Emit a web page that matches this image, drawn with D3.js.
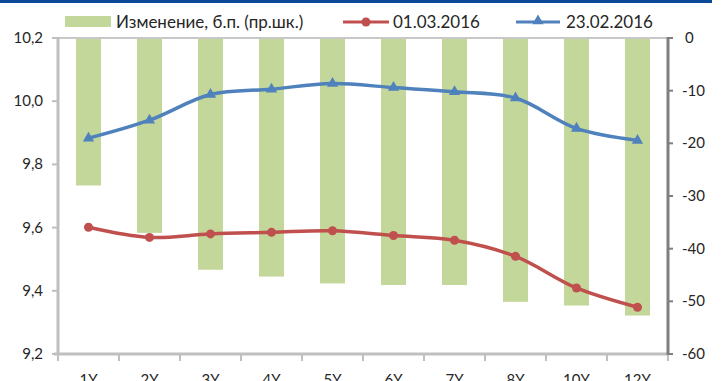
<!DOCTYPE html>
<html><head><meta charset="utf-8">
<script src="https://cdn.jsdelivr.net/npm/d3@7"></script>
<style>body{margin:0;background:#fff}svg{display:block}text{font-family:Lato,"Open Sans",sans-serif}</style>
</head><body><svg id="c" width="724" height="381"></svg>
<script>
const categories = ["1Y","2Y","3Y","4Y","5Y","6Y","7Y","8Y","10Y","12Y"];
const changeBp = [-28, -37, -44, -45.3, -46.6, -46.9, -46.9, -50.1, -50.8, -52.7];
const series0103 = [9.601, 9.569, 9.580, 9.585, 9.590, 9.575, 9.560, 9.509, 9.409, 9.348];
const series2302 = [9.883, 9.940, 10.021, 10.038, 10.056, 10.043, 10.030, 10.010, 9.914, 9.876];
const leftTicks = [9.2, 9.4, 9.6, 9.8, 10.0, 10.2];
const rightTicks = [0, -10, -20, -30, -40, -50, -60];
const legendLabels = ["Изменение, б.п. (пр.шк.)", "01.03.2016", "23.02.2016"];

const svg = d3.select("#c");
const L = 58, R = 668, T = 38, B = 354;
const x = d3.scaleBand().domain(categories).range([L, R]).paddingInner(0.59).paddingOuter(0.295);
const xb = d3.scaleBand().domain(categories).range([L, R]);
const yL = d3.scaleLinear().domain([9.2, 10.2]).range([B, T]);
const yR = d3.scaleLinear().domain([-60, 0]).range([B, T]);
const fmt = d => d3.format(".1f")(d).replace(".", ",");

// top band
svg.append("rect").attr("x",0).attr("y",0).attr("width",712).attr("height",3).attr("fill","#0b4a98");

// bars
svg.append("g").selectAll("rect").data(categories).join("rect")
  .attr("x", d => x(d)).attr("width", x.bandwidth())
  .attr("y", yR(0)).attr("height", (d,i) => yR(changeBp[i]) - yR(0))
  .attr("fill", "#c4d79b");

// top zero line for secondary axis
svg.append("line").attr("x1",L).attr("x2",R).attr("y1",yR(0)).attr("y2",yR(0)).attr("stroke","#c8c8c8").attr("stroke-width",2);

// x axis
const gx = svg.append("g").attr("transform",`translate(0,${B})`);
gx.append("line").attr("x1",L-4).attr("x2",R).attr("stroke","#bfbfbf").attr("stroke-width",3);
gx.selectAll("line.t").data(d3.range(categories.length+1)).join("line").attr("class","t")
  .attr("x1", i => L + i*xb.step()).attr("x2", i => L + i*xb.step())
  .attr("y1",0).attr("y2",7).attr("stroke","#bfbfbf").attr("stroke-width",2);
gx.selectAll("text").data(categories).join("text")
  .attr("x", d => xb(d) + xb.bandwidth()/2).attr("y", 31)
  .attr("text-anchor","middle").attr("font-size",15).attr("fill","#262626").text(d => d);

// left axis
const gl = svg.append("g");
gl.append("line").attr("x1",L).attr("x2",L).attr("y1",T-1).attr("y2",B).attr("stroke","#bfbfbf").attr("stroke-width",3);
gl.selectAll("line.t").data(leftTicks).join("line").attr("class","t")
  .attr("x1",L-6).attr("x2",L).attr("y1",d=>yL(d)).attr("y2",d=>yL(d)).attr("stroke","#bfbfbf").attr("stroke-width",2);
gl.selectAll("text").data(leftTicks).join("text")
  .attr("x",43).attr("y",d=>yL(d)+5).attr("text-anchor","end").attr("font-size",15).attr("fill","#262626").text(fmt);

// right axis
const gr = svg.append("g");
gr.append("line").attr("x1",R).attr("x2",R).attr("y1",T-1).attr("y2",B+1).attr("stroke","#7f7f7f").attr("stroke-width",3);
gr.selectAll("line.t").data(rightTicks).join("line").attr("class","t")
  .attr("x1",R).attr("x2",R+5).attr("y1",d=>yR(d)).attr("y2",d=>yR(d)).attr("stroke","#7f7f7f").attr("stroke-width",2);
gr.selectAll("text").data(rightTicks).join("text")
  .attr("x",d => d===0 ? 685 : 682).attr("y",d=>yR(d)+5).attr("text-anchor","start").attr("font-size",15).attr("fill","#262626").text(d=>d);

// lines
const cx = i => xb(categories[i]) + xb.bandwidth()/2;
const line = d3.line().x((d,i)=>cx(i)).y(d=>yL(d)).curve(d3.curveCatmullRom.alpha(0.5));
svg.append("path").datum(series2302).attr("d",line).attr("fill","none").attr("stroke","#4f81bd").attr("stroke-width",3.5);
svg.append("path").datum(series0103).attr("d",line).attr("fill","none").attr("stroke","#c0504d").attr("stroke-width",3.5);
const tri = d3.symbol().type(d3.symbolTriangle).size(55);
svg.append("g").selectAll("path").data(series2302).join("path")
  .attr("d",tri).attr("transform",(d,i)=>`translate(${cx(i)},${yL(d)})`).attr("fill","#4f81bd");
svg.append("g").selectAll("circle").data(series0103).join("circle")
  .attr("cx",(d,i)=>cx(i)).attr("cy",d=>yL(d)).attr("r",4.5).attr("fill","#c0504d");

// legend
const lg = svg.append("g");
lg.append("rect").attr("x",65).attr("y",16).attr("width",46).attr("height",11).attr("fill","#c4d79b");
lg.append("text").attr("x",116).attr("y",28).attr("font-size",17).attr("fill","#262626").text(legendLabels[0]);
lg.append("line").attr("x1",343).attr("x2",389).attr("y1",22).attr("y2",22).attr("stroke","#c0504d").attr("stroke-width",3);
lg.append("circle").attr("cx",366).attr("cy",22).attr("r",4.5).attr("fill","#c0504d");
lg.append("text").attr("x",393).attr("y",28).attr("font-size",17).attr("fill","#262626").text(legendLabels[1]);
lg.append("line").attr("x1",516).attr("x2",560).attr("y1",22).attr("y2",22).attr("stroke","#4f81bd").attr("stroke-width",3);
lg.append("path").attr("d",tri).attr("transform","translate(538,21)").attr("fill","#4f81bd");
lg.append("text").attr("x",566).attr("y",28).attr("font-size",17).attr("fill","#262626").text(legendLabels[2]);
</script></body></html>
